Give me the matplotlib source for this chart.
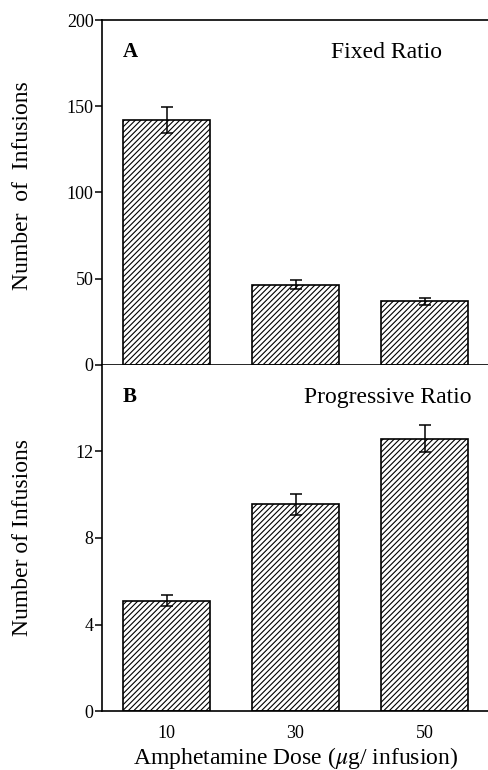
import matplotlib
matplotlib.use('Agg')
import matplotlib.pyplot as plt
import numpy as np

# Dosis de anfetamina (ug/infusion)
doses = ['10', '30', '50']

# Panel A - Fixed Ratio
fr_mean = [142, 46.5, 37]
fr_err = [7.5, 2.5, 2]

# Panel B - Progressive Ratio
pr_mean = [5.1, 9.55, 12.6]
pr_err = [0.25, 0.5, 0.63]

plt.rcParams['font.family'] = ['Liberation Serif', 'DejaVu Serif']
plt.rcParams['mathtext.fontset'] = 'stix'
plt.rcParams['hatch.linewidth'] = 0.8

fig = plt.figure(figsize=(4.89, 7.70), dpi=100)
ax1 = fig.add_axes([0.2086, 0.526, 0.7914, 0.448])
ax2 = fig.add_axes([0.2086, 0.0766, 0.7914, 0.4494])

x = np.arange(len(doses))


def panel(ax, vals, errs, ymax, yticks, ylab, ly, letra, titulo, tx):
    ax.bar(x, vals, width=0.67, color='white', edgecolor='black',
           linewidth=1.2, hatch='//////', zorder=2)
    ax.errorbar(x, vals, yerr=errs, fmt='none', ecolor='black',
                elinewidth=1.1, capsize=4, capthick=1.1, zorder=3)
    ax.set_xlim(-0.5, 2.5)
    ax.set_ylim(0, ymax)
    ax.set_yticks(yticks)
    ax.spines['right'].set_visible(False)
    for s in ax.spines.values():
        s.set_linewidth(1.2)
    ax.tick_params(axis='y', direction='out', length=5, width=1.1,
                   labelsize=13, pad=1)
    ax.set_ylabel(ylab, fontsize=17)
    ax.yaxis.set_label_coords(-0.178, ly)
    ax.text(0.054, 0.907, letra, transform=ax.transAxes, fontsize=15,
            fontweight='bold', va='center', ha='left')
    ax.text(tx, 0.907, titulo, transform=ax.transAxes, fontsize=17,
            va='center', ha='right')


panel(ax1, fr_mean, fr_err, 200, [0, 50, 100, 150, 200],
      'Number  of  Infusions', 0.52, 'A', 'Fixed Ratio', 0.878)
panel(ax2, pr_mean, pr_err, 16, [0, 4, 8, 12],
      'Number of Infusions', 0.5, 'B', 'Progressive Ratio', 0.956)

ax1.set_xticks([])
ax2.spines['top'].set_visible(False)
ax2.set_xticks(x)
ax2.set_xticklabels(doses)
ax2.tick_params(axis='x', length=0, labelsize=13, pad=10)
ax2.set_xlabel('Amphetamine Dose ($\\mu$g/ infusion)', fontsize=17, labelpad=2)

fig.savefig('out.png', dpi=100)
